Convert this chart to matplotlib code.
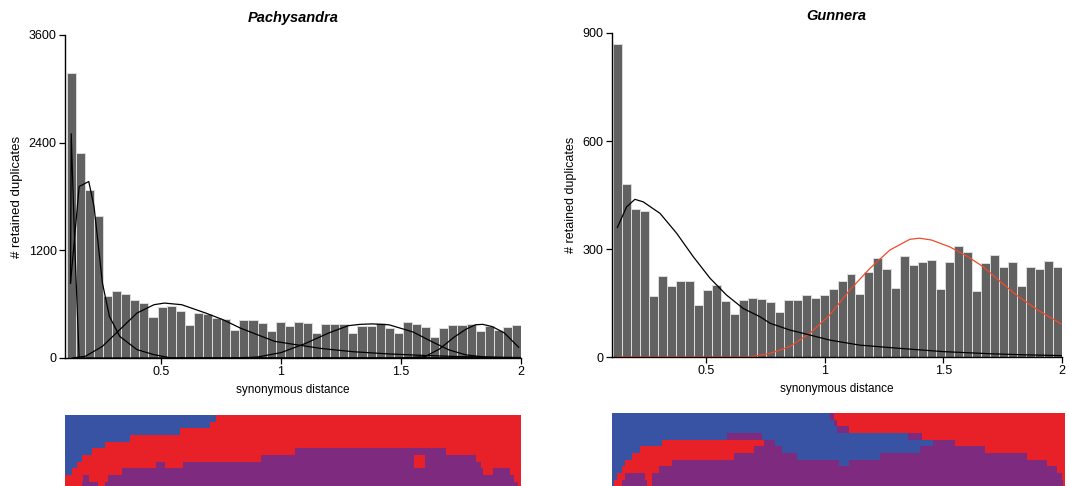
import numpy as np
import matplotlib
matplotlib.use("Agg")
import matplotlib.pyplot as plt

plt.rcParams['font.family'] = ['Liberation Sans', 'DejaVu Sans']

# ---------------- data ----------------
bin_lo, bin_hi, n_bins = 0.107, 2.0, 50

pachy_counts = [3180, 2283, 1867, 1577, 687, 742, 713, 650, 612, 457,
                568, 583, 520, 364, 501, 490, 445, 438, 315, 419,
                427, 390, 297, 397, 360, 397, 390, 278, 382, 382,
                378, 278, 360, 353, 390, 334, 278, 401, 382, 345,
                234, 334, 364, 371, 382, 297, 353, 315, 341, 364]

gunnera_counts = [870, 480, 410, 405, 170, 225, 198, 210, 210, 145,
                  185, 200, 155, 120, 158, 163, 160, 152, 125, 157,
                  157, 172, 165, 172, 190, 210, 230, 175, 235, 275,
                  245, 192, 280, 255, 265, 270, 190, 265, 308, 292,
                  183, 262, 283, 250, 265, 197, 250, 245, 268, 250]

# fitted components
pachy_c1_x = [0.123, 0.126, 0.140, 0.159, 0.20, 2.0]
pachy_c1_y = [835, 2500, 1300, 0, 0, 0]
pachy_c2_x = [0.123, 0.159, 0.199, 0.221, 0.256, 0.285, 0.328, 0.40, 0.471, 0.543, 2.0]
pachy_c2_y = [835, 1911, 1967, 1689, 835, 464, 241, 93, 37, 0, 0]
pachy_c3_x = [0.13, 0.185, 0.256, 0.328, 0.40, 0.471, 0.514, 0.586, 0.686, 0.758, 0.830,
              0.901, 0.973, 1.058, 1.17, 1.30, 1.45, 1.60, 1.75, 2.0]
pachy_c3_y = [0, 19, 130, 315, 501, 594, 612, 594, 501, 427, 334,
              260, 186, 150, 105, 70, 45, 28, 15, 5]
pachy_c4_x = [0.80, 0.90, 1.0, 1.1, 1.2, 1.28, 1.33, 1.38, 1.45, 1.55, 1.63, 1.70, 1.77, 1.85, 1.95, 2.0]
pachy_c4_y = [0, 10, 60, 160, 280, 360, 375, 380, 370, 290, 180, 90, 35, 10, 0, 0]
pachy_c5_x = [1.50, 1.60, 1.66, 1.72, 1.77, 1.81, 1.84, 1.88, 1.93, 1.99]
pachy_c5_y = [0, 15, 100, 230, 320, 370, 375, 350, 280, 120]

gunnera_black_x = [0.124, 0.163, 0.198, 0.233, 0.304, 0.374, 0.444, 0.515, 0.585, 0.655,
                   0.726, 0.768, 0.852, 0.937, 1.021, 1.148, 1.316, 1.50, 1.70, 1.85, 2.0]
gunnera_black_y = [360, 417, 438, 431, 399, 344, 279, 219, 172, 135,
                   112, 94, 75, 61, 47, 33, 24, 15, 9, 6, 4]
gunnera_red_x = [0.124, 0.60, 0.684, 0.768, 0.852, 0.937, 1.021, 1.105, 1.19, 1.274, 1.359,
                 1.40, 1.45, 1.527, 1.60, 1.668, 1.74, 1.809, 1.90, 2.005]
gunnera_red_y = [0, 0, 0, 10, 29, 66, 117, 186, 246, 297, 327,
                 330, 325, 306, 280, 251, 210, 172, 130, 89]

# SiZer-style maps: each row is a list of (colour code, right edge in distance units)
pachy_map = [
    [('B', 0.731), ('R', 2.0)],
    [('B', 0.703), ('R', 2.0)],
    [('B', 0.579), ('R', 2.0)],
    [('B', 0.370), ('R', 2.0)],
    [('B', 0.266), ('R', 2.0)],
    [('B', 0.211), ('R', 1.057), ('P', 1.688), ('R', 2.0)],
    [('B', 0.169), ('R', 0.918), ('P', 1.556), ('R', 1.598), ('P', 1.813), ('R', 2.0)],
    [('B', 0.149), ('R', 0.481), ('P', 0.516), ('R', 0.592), ('P', 1.556), ('R', 1.598), ('P', 1.834), ('R', 2.0)],
    [('B', 0.128), ('R', 0.336), ('P', 1.841), ('R', 1.882), ('P', 1.952), ('R', 2.0)],
    [('R', 0.176), ('P', 0.200), ('R', 0.280), ('P', 1.972), ('R', 2.0)],
    [('R', 0.169), ('P', 0.239), ('R', 0.266), ('P', 1.986), ('R', 2.0)],
]
gunnera_map = [
    [('B', 1.015), ('P', 1.029), ('R', 2.0)],
    [('B', 1.029), ('P', 1.043), ('R', 2.0)],
    [('B', 1.043), ('P', 1.092), ('R', 2.0)],
    [('B', 0.582), ('P', 0.729), ('B', 1.343), ('P', 1.399), ('R', 2.0)],
    [('B', 0.310), ('R', 0.736), ('P', 0.785), ('B', 1.448), ('P', 1.539), ('R', 2.0)],
    [('B', 0.219), ('R', 0.694), ('P', 0.812), ('B', 1.392), ('P', 1.665), ('R', 2.0)],
    [('B', 0.184), ('R', 0.610), ('P', 0.875), ('B', 1.225), ('P', 1.839), ('R', 2.0)],
    [('B', 0.156), ('R', 0.351), ('P', 1.050), ('B', 1.092), ('P', 1.923), ('R', 2.0)],
    [('B', 0.142), ('R', 0.296), ('P', 1.965), ('R', 2.0)],
    [('B', 0.121), ('R', 0.156), ('P', 0.240), ('R', 0.268), ('P', 1.986), ('R', 2.0)],
    [('B', 0.107), ('R', 0.142), ('P', 0.247), ('R', 0.268), ('P', 1.993), ('R', 2.0)],
]

titles = ['Pachysandra', 'Gunnera']
x_ticks = [0.5, 1, 1.5, 2]
x_ticklabels = ['0.5', '1', '1.5', '2']
pachy_yticks = [0, 1200, 2400, 3600]
gunnera_yticks = [0, 300, 600, 900]

# ---------------- style ----------------
BAR = '#616161'
MAPC = {'B': '#3953a4', 'R': '#e82129', 'P': '#7e2a7f'}

fig = plt.figure(figsize=(10.69, 4.86), dpi=100)

edges = np.linspace(bin_lo, bin_hi, n_bins + 1)


def hist_panel(rect, counts, yticks, title, curves, ylab_size):
    ax = fig.add_axes(rect)
    ax.bar(edges[:-1], counts, width=np.diff(edges), align='edge',
           color=BAR, edgecolor='#dcdcdc', linewidth=0.7)
    for xs, ys, c in curves:
        ax.plot(xs, ys, color=c, lw=0.9)
    ax.set_xlim(0.1, 2.0)
    ax.set_ylim(0, yticks[-1])
    ax.set_yticks(yticks)
    ax.set_yticklabels([str(t) for t in yticks])
    ax.set_xticks(x_ticks)
    ax.set_xticklabels(x_ticklabels)
    for s in ['top', 'right']:
        ax.spines[s].set_visible(False)
    ax.spines['left'].set_linewidth(1.0)
    ax.spines['bottom'].set_linewidth(1.0)
    ax.tick_params(direction='out', length=4, width=0.9, labelsize=9, pad=2)
    ax.set_xlabel('synonymous distance', fontsize=8.5, labelpad=4)
    ax.set_ylabel('# retained duplicates', fontsize=ylab_size, labelpad=4)
    ax.set_title(title, fontsize=10.5, fontweight='bold', fontstyle='italic', pad=9)
    ax.spines['bottom'].set_clip_on(False)
    return ax


def map_panel(rect, rows, nvis):
    ax = fig.add_axes(rect)
    for i, row in enumerate(rows):
        start = 0.1
        xr, cols = [], []
        for code, end in row:
            xr.append((start, end - start))
            cols.append(MAPC[code])
            start = end
        ax.broken_barh(xr, (i, 1), facecolors=cols, edgecolor='none', linewidth=0)
    ax.set_xlim(0.1, 2.0)
    ax.set_ylim(nvis, 0)
    ax.axis('off')
    return ax


hist_panel([0.0608, 0.2634, 0.4266, 0.6646], pachy_counts, pachy_yticks, titles[0],
           [(pachy_c1_x, pachy_c1_y, 'black'), (pachy_c2_x, pachy_c2_y, 'black'),
            (pachy_c3_x, pachy_c3_y, 'black'), (pachy_c4_x, pachy_c4_y, 'black'),
            (pachy_c5_x, pachy_c5_y, 'black')], 9.5)
hist_panel([0.5722, 0.2654, 0.4210, 0.6667], gunnera_counts, gunnera_yticks, titles[1],
           [(gunnera_red_x, gunnera_red_y, '#f04a2a'), (gunnera_black_x, gunnera_black_y, 'black')], 9)

map_panel([0.0608, 0.0, 0.4266, 0.1461], pachy_map, 10.65)
map_panel([0.5725, 0.0, 0.4238, 0.1502], gunnera_map, 10.95)

fig.savefig('out.png', dpi=100)
